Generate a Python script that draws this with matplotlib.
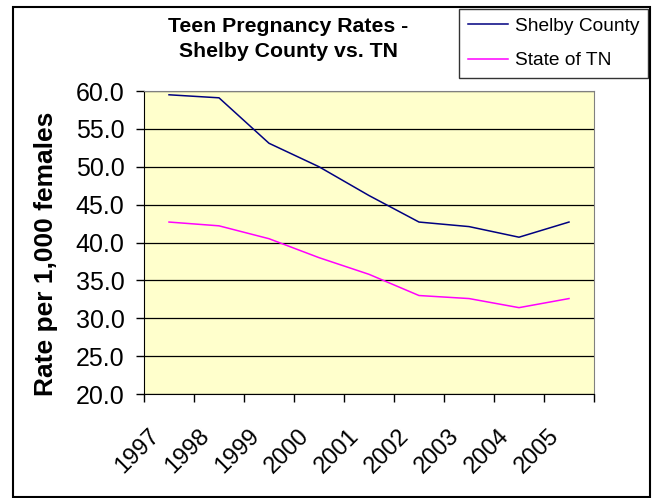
import matplotlib
matplotlib.use("Agg")
import matplotlib.pyplot as plt
import matplotlib.transforms as mtransforms
from matplotlib.patches import Rectangle

plt.rcParams['font.family'] = ['Liberation Sans', 'DejaVu Sans']

# data
years = ['1997', '1998', '1999', '2000', '2001', '2002', '2003', '2004', '2005']
shelby = [59.5, 59.1, 53.1, 50.0, 46.2, 42.7, 42.1, 40.7, 42.7]
tn = [42.7, 42.2, 40.5, 38.0, 35.8, 33.0, 32.6, 31.4, 32.6]
yticks = [20, 25, 30, 35, 40, 45, 50, 55, 60]

fig = plt.figure(figsize=(6.57, 4.98), dpi=100)
ax = fig.add_axes([144 / 657, 1 - 394 / 498, 450 / 657, 303 / 498])
ax.set_facecolor('#FFFFCC')

x = list(range(len(years)))
l1, = ax.plot(x, shelby, color='#000080', lw=1.1, label='Shelby County')
l2, = ax.plot(x, tn, color='#FF00FF', lw=1.1, label='State of TN')

ax.set_xlim(-0.5, len(years) - 0.5)
ax.set_ylim(20, 60)
ax.set_yticks(yticks)
ax.set_yticklabels([f'{v:.1f}' for v in yticks], fontsize=18)
ax.tick_params(axis='y', length=6, width=1, pad=8, colors='black')
ax.yaxis.grid(True, color='black', lw=0.9)
ax.set_axisbelow(True)

# boundaries get tick marks, centers get the rotated labels
ax.set_xticks([i - 0.5 for i in range(len(years) + 1)])
ax.set_xticklabels([])
ax.tick_params(axis='x', which='major', length=6, width=1)
ax.set_xticks(x, minor=True)
ax.set_xticklabels(years, minor=True, fontsize=17, rotation=45,
                   ha='right', va='center', rotation_mode='anchor')
ax.tick_params(axis='x', which='minor', length=0, pad=0)
offset = mtransforms.ScaledTranslation(-0.13, -0.39, fig.dpi_scale_trans)
for lab in ax.get_xticklabels(minor=True):
    lab.set_transform(lab.get_transform() + offset)

for side in ['top', 'right']:
    ax.spines[side].set_color('#808080')
for side in ['left', 'bottom']:
    ax.spines[side].set_color('black')

fig.text(46.5 / 657, 1 - 254 / 498, 'Rate per 1,000 females', rotation=90,
         ha='center', va='center', fontsize=19, fontweight='bold')
fig.text(288 / 657, 1 - 39 / 498, 'Teen Pregnancy Rates -\nShelby County vs. TN',
         ha='center', va='center', fontsize=15.3, fontweight='bold',
         linespacing=1.35)

leg = fig.legend(handles=[l1, l2], loc='upper right',
                 bbox_to_anchor=(648 / 657, 1 - 9 / 498),
                 fontsize=13.8, frameon=True, fancybox=False,
                 handlelength=2.1, handletextpad=0.35, labelspacing=0.88,
                 borderpad=0.45, borderaxespad=0)
leg.get_frame().set_edgecolor('black')
leg.get_frame().set_linewidth(1.0)

fig.patches.append(Rectangle((13 / 657, 1 / 498), 637 / 657, 490 / 498,
                             transform=fig.transFigure, fill=False,
                             edgecolor='black', lw=1.5))

fig.savefig('out.png', dpi=100)
